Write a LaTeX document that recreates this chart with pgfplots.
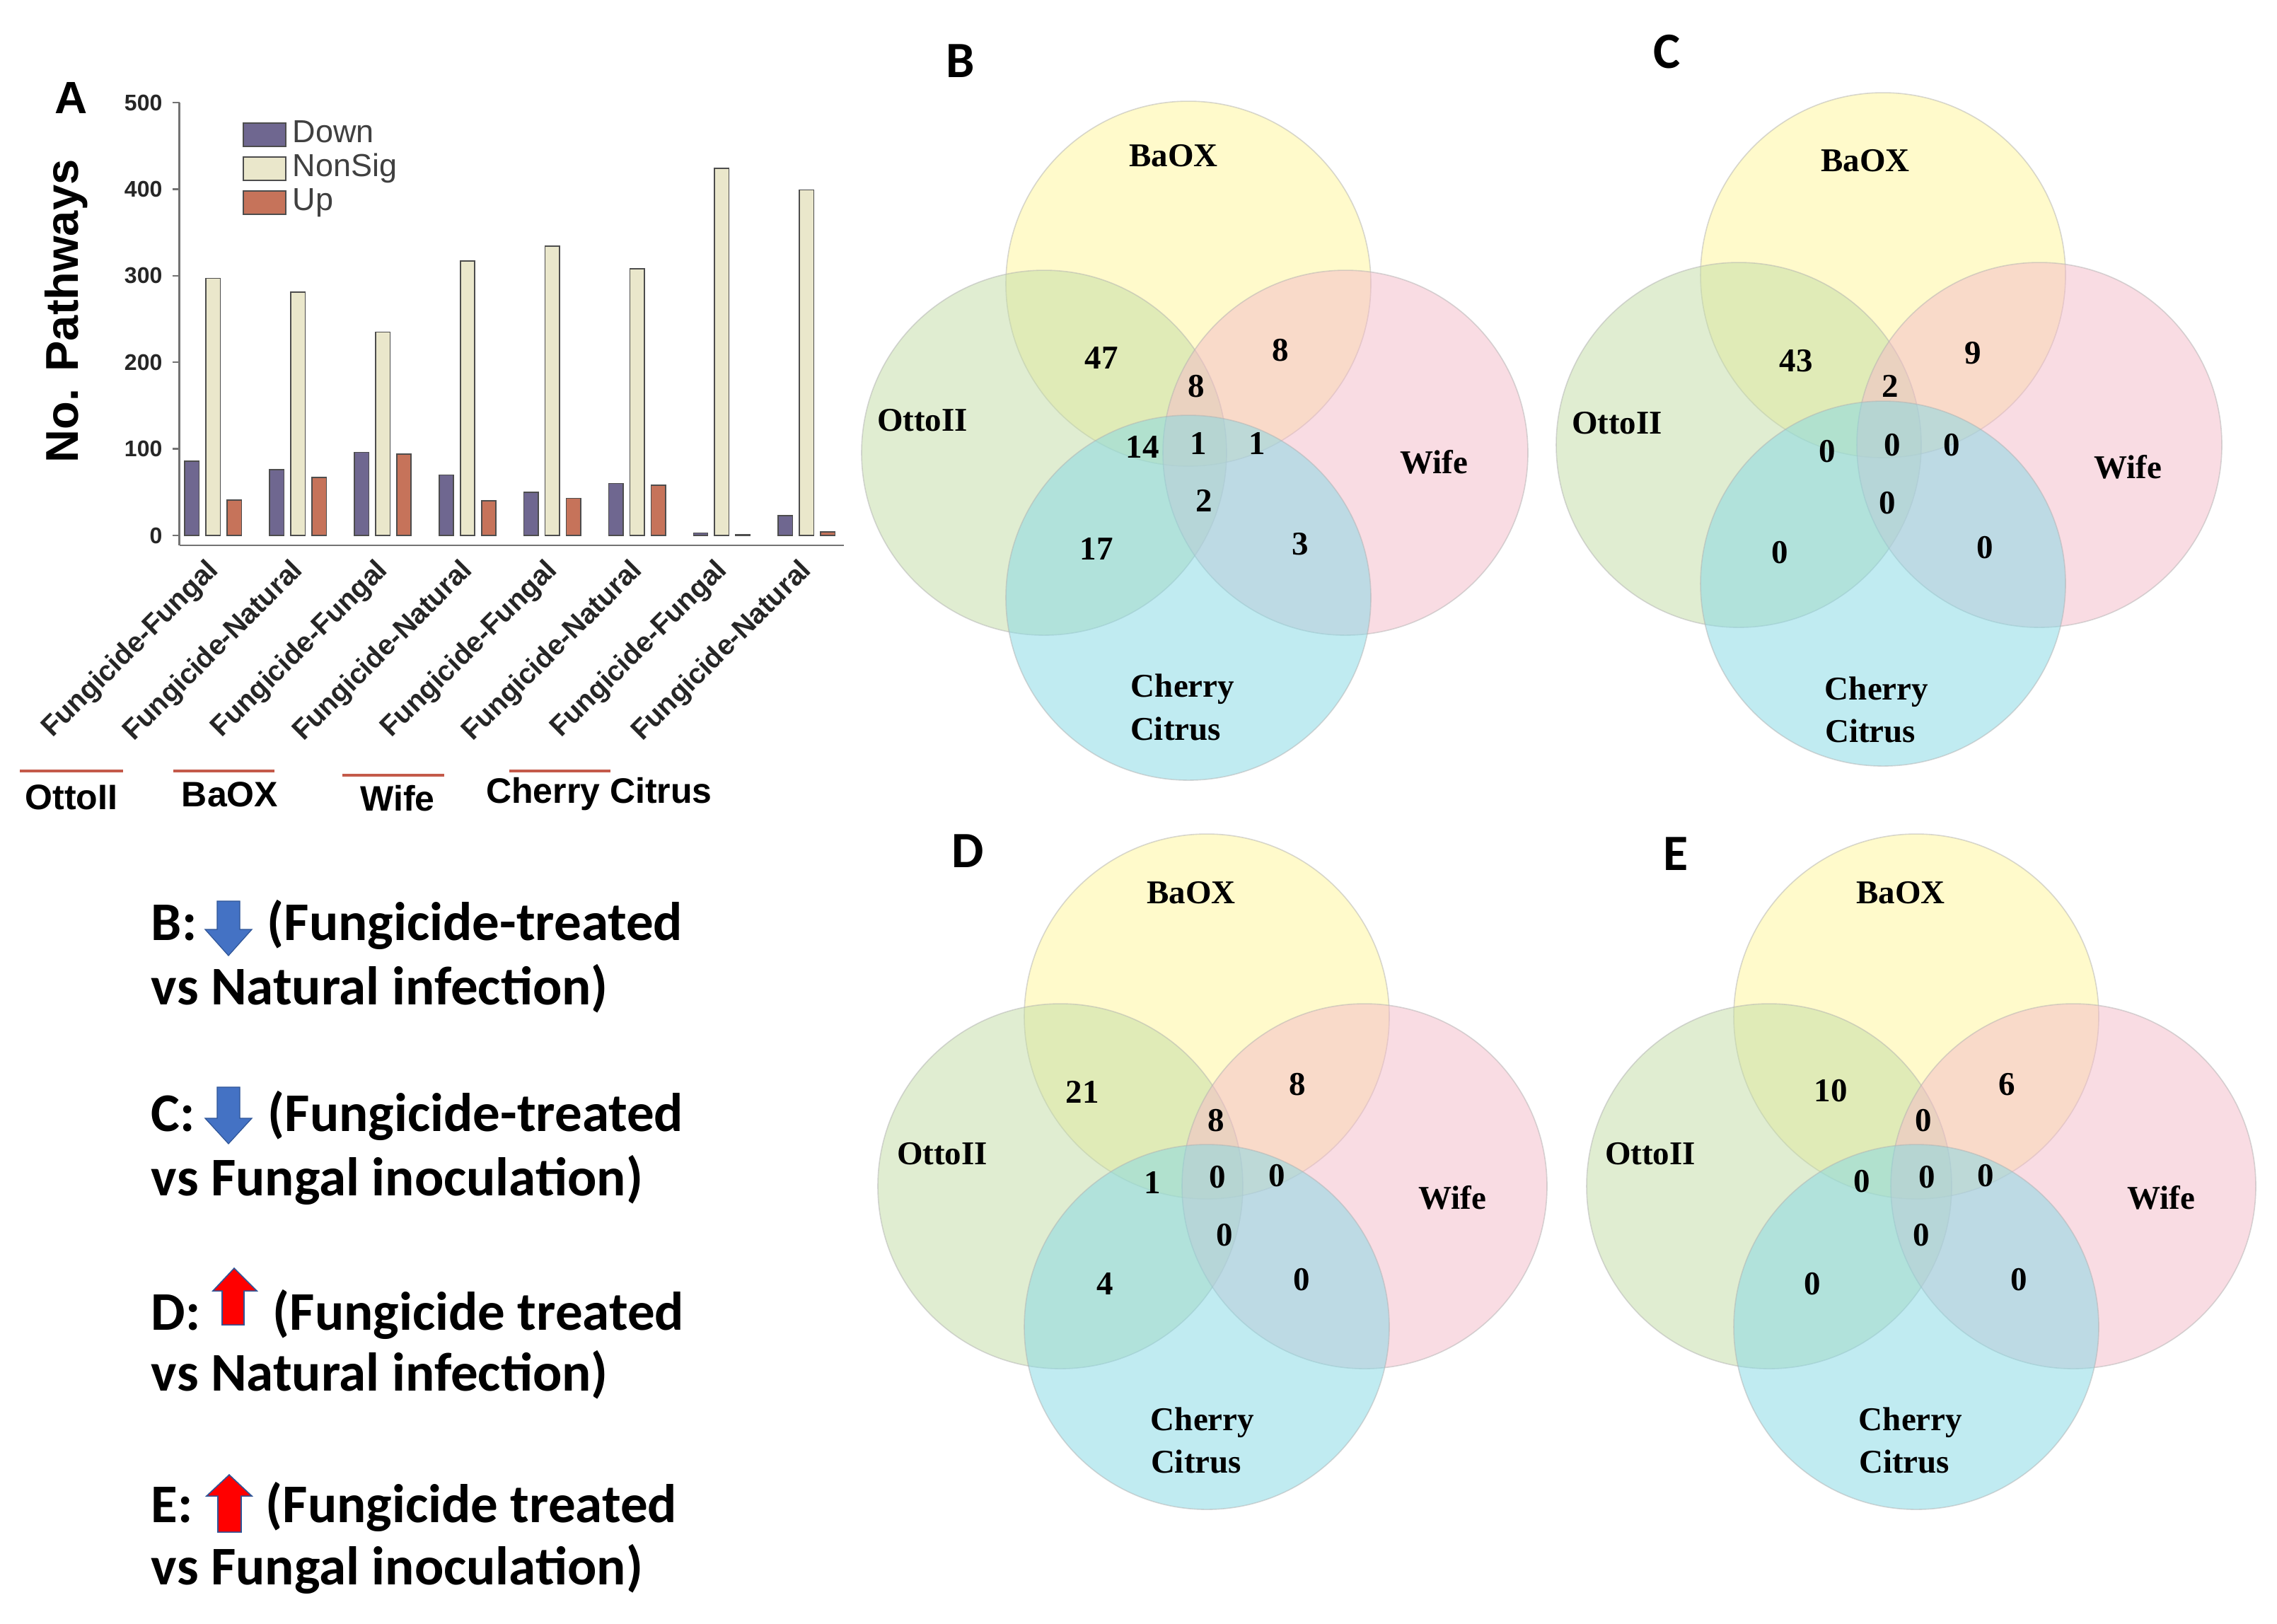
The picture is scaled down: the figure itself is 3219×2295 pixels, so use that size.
\documentclass[border=0pt]{standalone}
\usepackage{fontspec}
\setmainfont{Liberation Sans}
\newfontfamily\tnr{Liberation Serif}
\newfontfamily\calibri{Carlito}
\usepackage{pgfplots}
\pgfplotsset{compat=1.18}

\definecolor{cDown}{HTML}{6F6790}
\definecolor{cNon}{HTML}{EAE7CB}
\definecolor{cUp}{HTML}{C6735A}
\definecolor{barEdge}{HTML}{4D4D4D}
\definecolor{grpRed}{HTML}{C45A4A}
\definecolor{vYel}{HTML}{FFF799}
\definecolor{vGrn}{HTML}{C3DDA5}
\definecolor{vPnk}{HTML}{F5BBC9}
\definecolor{vCyn}{HTML}{83D9E5}
\definecolor{arrBlue}{HTML}{4472C4}
\definecolor{arrEdge}{HTML}{2F5597}

\newcommand\venn{\tnr\bfseries\fontsize{11.75}{13}\selectfont}
\newcommand\txt{\calibri\bfseries\fontsize{19.25}{22}\selectfont}
\newcommand\plet{\calibri\bfseries\fontsize{18}{20}\selectfont}
\newcommand\grp{\bfseries\fontsize{12.5}{14}\selectfont}

\begin{document}
\begin{tikzpicture}
% canvas in reference pixels: Venn panels B-E, text block, group labels
\begin{axis}[at={(0pt,0pt)}, anchor=north west, scale only axis,
  width=804.75pt, height=573.75pt,
  xmin=0, xmax=3219, ymin=0, ymax=2295, y dir=reverse,
  hide axis, clip=false]
\fill[white] (0,0) rectangle (3219,2295);

% circles (centres in px, r = 258px)
\addplot[only marks, mark=*, mark size=64.5pt,
  mark options={fill=vYel, fill opacity=0.5, draw=black!30, draw opacity=0.5}]
  coordinates {(1680,401) (2662,389) (1706,1437) (2709,1437)};
\addplot[only marks, mark=*, mark size=64.5pt,
  mark options={fill=vGrn, fill opacity=0.5, draw=black!30, draw opacity=0.5}]
  coordinates {(1476,640) (2458,629) (1499,1677) (2501,1677)};
\addplot[only marks, mark=*, mark size=64.5pt,
  mark options={fill=vPnk, fill opacity=0.5, draw=black!30, draw opacity=0.5}]
  coordinates {(1902,640) (2883,629) (1929,1677) (2931,1677)};
\addplot[only marks, mark=*, mark size=64.5pt,
  mark options={fill=vCyn, fill opacity=0.5, draw=black!30, draw opacity=0.5}]
  coordinates {(1680,845) (2662,825) (1706,1876) (2709,1876)};

% region counts
\addplot[draw=none, mark=none,
  nodes near coords, point meta=explicit symbolic,
  every node near coord/.append style={anchor=center, font=\venn, inner sep=0pt, text=black}]
  coordinates {
  % B
  (1557,506)[47] (1810,495)[8] (1691,546)[8] (1615,632)[14] (1694,627)[1]
  (1777,627)[1] (1702,708)[2] (1550,776)[17] (1838,769)[3]
  % C
  (2539,510)[43] (2789,499)[9] (2672,546)[2] (2583,638)[0] (2675,629)[0]
  (2759,629)[0] (2668,711)[0] (2516,781)[0] (2806,774)[0]
  % D
  (1530,1544)[21] (1834,1533)[8] (1719,1584)[8] (1629,1672)[1] (1721,1664)[0]
  (1805,1662)[0] (1731,1746)[0] (1562,1815)[4] (1840,1809)[0]
  % E
  (2588,1542)[10] (2837,1533)[6] (2719,1584)[0] (2632,1670)[0] (2724,1664)[0]
  (2807,1662)[0] (2716,1746)[0] (2562,1815)[0] (2854,1809)[0]
  };

% set names
\addplot[draw=none, mark=none,
  nodes near coords, point meta=explicit symbolic,
  every node near coord/.append style={anchor=center, font=\venn, inner sep=0pt, text=black}]
  coordinates {
  (1659,220)[BaOX] (1304,594)[OttoII] (2027,653)[Wife] (1672,974)[Cherry] (1662,1030)[Citrus]
  (2637,227)[BaOX] (2286,598)[OttoII] (3008,660)[Wife] (2653,978)[Cherry] (2644,1033)[Citrus]
  (1684,1262)[BaOX] (1332,1631)[OttoII] (2053,1693)[Wife] (1700,2011)[Cherry] (1691,2066)[Citrus]
  (2687,1262)[BaOX] (2333,1631)[OttoII] (3055,1693)[Wife] (2701,2011)[Cherry] (2692,2066)[Citrus]
  };

% panel letters
\node[font=\bfseries\fontsize{16}{18}\selectfont, inner sep=0pt] at (101,138) {A};
\begin{scope}[every node/.style={font=\plet, inner sep=0pt}]
\node at (1358,86) {B};  \node at (2357,73) {C};
\node at (1368,1203) {D}; \node at (2369,1207) {E};
\end{scope}

% cultivar groups under panel A
\draw[grpRed, line width=1.2pt] (28,1090) -- (174,1090);
\draw[grpRed, line width=1.2pt] (245,1090) -- (388,1090);
\draw[grpRed, line width=1.2pt] (484,1096) -- (628,1096);
\draw[grpRed, line width=1.2pt] (720,1090) -- (863,1090);
\begin{scope}[every node/.style={font=\grp, inner sep=0pt}]
\node at (101,1127) {OttoII}; \node at (325,1123) {BaOX};
\node at (562,1129) {Wife};   \node at (847,1123) {Cherry Citrus};
\end{scope}

% key to panels B-E
\begin{scope}[every node/.style={font=\txt, inner sep=0pt, anchor=base west}]
\node at (213,1329) {B:}; \node at (377,1329) {(Fungicide-treated};
\node at (213,1420) {vs Natural infection)};
\node at (213,1599) {C:}; \node at (378,1599) {(Fungicide-treated};
\node at (213,1690) {vs Fungal inoculation)};
\node at (213,1880) {D:}; \node at (385,1880) {(Fungicide treated};
\node at (213,1966) {vs Natural infection)};
\node at (213,2152) {E:}; \node at (375,2152) {(Fungicide treated};
\node at (213,2240) {vs Fungal inoculation)};
\end{scope}
\filldraw[fill=arrBlue, draw=arrEdge, line width=0.3pt]
  (307,1274) -- (339,1274) -- (339,1314) -- (356,1314) -- (323,1351)
  -- (290,1314) -- (307,1314) -- cycle;
\filldraw[fill=arrBlue, draw=arrEdge, line width=0.3pt]
  (307,1537) -- (339,1537) -- (339,1581) -- (356,1581) -- (323,1617)
  -- (290,1581) -- (307,1581) -- cycle;
\filldraw[fill=red, draw=arrEdge, line width=0.4pt]
  (314,1873) -- (345,1873) -- (345,1825) -- (363,1825) -- (331,1793)
  -- (301,1825) -- (314,1825) -- cycle;
\filldraw[fill=red, draw=arrEdge, line width=0.4pt]
  (308,2166) -- (341,2166) -- (341,2115) -- (356,2115) -- (324,2085)
  -- (292,2115) -- (308,2115) -- cycle;
\end{axis}

% panel A: pathway counts
\begin{axis}[at={(63.375pt,-192.75pt)}, anchor=south west, scale only axis,
  width=234.875pt, height=156.5pt,
  ybar, bar width=0.17,
  xmin=0.6, xmax=8.44, ymin=-11.4, ymax=500,
  axis lines*=left,
  axis line style={draw=black!55, line width=0.6pt},
  xtick={1,...,8},
  xticklabels={Fungicide-Fungal,Fungicide-Natural,Fungicide-Fungal,Fungicide-Natural,
    Fungicide-Fungal,Fungicide-Natural,Fungicide-Fungal,Fungicide-Natural},
  x tick style={draw=none},
  xticklabel style={xshift=-3pt, rotate=45, anchor=north east, inner sep=1pt,
    font=\bfseries\fontsize{10}{12}\selectfont, text=black!85},
  ytick={0,100,...,500},
  y tick style={draw=black!55, line width=0.6pt},
  tick align=outside, major tick length=2.5pt,
  yticklabel style={font=\bfseries\fontsize{8}{9}\selectfont, text=black!85},
  /pgf/number format/assume math mode=true,
  ylabel={No. Pathways},
  ylabel style={at={(axis description cs:-0.17,0.529)}, anchor=center,
    font=\bfseries\fontsize{16.25}{18}\selectfont},
  legend image code/.code={\draw[#1] (0pt,-4.1pt) rectangle (15pt,4.1pt);
    \path (16.5pt,0pt);},
  legend cell align=left,
  legend style={draw=none, fill=none, at={(axis description cs:0.082,0.98)},
    anchor=north west, font=\fontsize{11.25}{12}\selectfont, text=black!75,
    nodes={inner sep=0.75pt, text height=8pt, text depth=2.5pt}},
  ]
\addplot[fill=cDown, draw=barEdge, bar shift=-0.25]
  coordinates {(1,86) (2,76) (3,96) (4,70) (5,50) (6,60) (7,3) (8,23)};
\addplot[fill=cNon, draw=barEdge, bar shift=0]
  coordinates {(1,297) (2,281) (3,235) (4,317) (5,334) (6,308) (7,424) (8,399)};
\addplot[fill=cUp, draw=barEdge, bar shift=0.25]
  coordinates {(1,41) (2,67) (3,94) (4,40) (5,43) (6,58) (7,1) (8,4)};
\legend{Down,NonSig,Up}
\end{axis}
\end{tikzpicture}
\end{document}
